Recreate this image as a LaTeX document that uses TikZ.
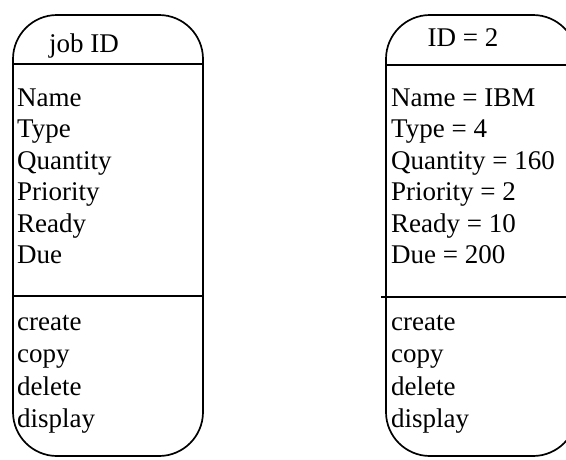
\documentclass[tikz,border=0pt]{standalone}
\usepackage{fontspec}
\setmainfont{Liberation Serif}
\begin{document}
\begin{tikzpicture}[x=1pt,y=-1pt,
  box/.style={line width=1.7pt, rounded corners=44pt},
  divider/.style={line width=1.7pt},
  field/.style={anchor=base west, inner sep=0pt, font=\fontsize{27}{32}\selectfont},
  title/.style={anchor=base, inner sep=0pt, font=\fontsize{27}{32}\selectfont}]
\useasboundingbox (0,0) rectangle (566,459);
\clip (0,0) rectangle (566,459);
% left class box
\draw[box] (13,15) rectangle (203,456);
\coordinate (l1a) at (13,64); \coordinate (l1b) at (203,64);
\coordinate (l2a) at (13,296); \coordinate (l2b) at (203,296);
\draw[divider] (l1a) -- (l1b);
\draw[divider] (l2a) -- (l2b);
\node[title] (ltitle) at (84,52) {job ID};
\node[field] (lname) at (17,106) {Name};
\node[field] (ltype) at (17,137) {Type};
\node[field] (lqty) at (17,169) {Quantity};
\node[field] (lprio) at (17,200) {Priority};
\node[field] (lready) at (17,232) {Ready};
\node[field] (ldue) at (17,263) {Due};
\node[field] (lcreate) at (17,330) {create};
\node[field] (lcopy) at (17,362) {copy};
\node[field] (ldelete) at (17,395) {delete};
\node[field] (ldisplay) at (17,427) {display};
% right object box
\draw[box] (386,15) rectangle (577,456);
\coordinate (r1a) at (386,65); \coordinate (r1b) at (577,65);
\coordinate (r2a) at (381,297); \coordinate (r2b) at (577,297);
\draw[divider] (r1a) -- (r1b);
\draw[divider] (r2a) -- (r2b);
\node[title] (rtitle) at (463,46) {ID = 2};
\node[field] (rname) at (391,106) {Name = IBM};
\node[field] (rtype) at (391,137) {Type = 4};
\node[field] (rqty) at (391,169) {Quantity = 160};
\node[field] (rprio) at (391,200) {Priority = 2};
\node[field] (rready) at (391,232) {Ready = 10};
\node[field] (rdue) at (391,263) {Due = 200};
\node[field] (rcreate) at (391,330) {create};
\node[field] (rcopy) at (391,362) {copy};
\node[field] (rdelete) at (391,395) {delete};
\node[field] (rdisplay) at (391,427) {display};
\end{tikzpicture}
\end{document}
